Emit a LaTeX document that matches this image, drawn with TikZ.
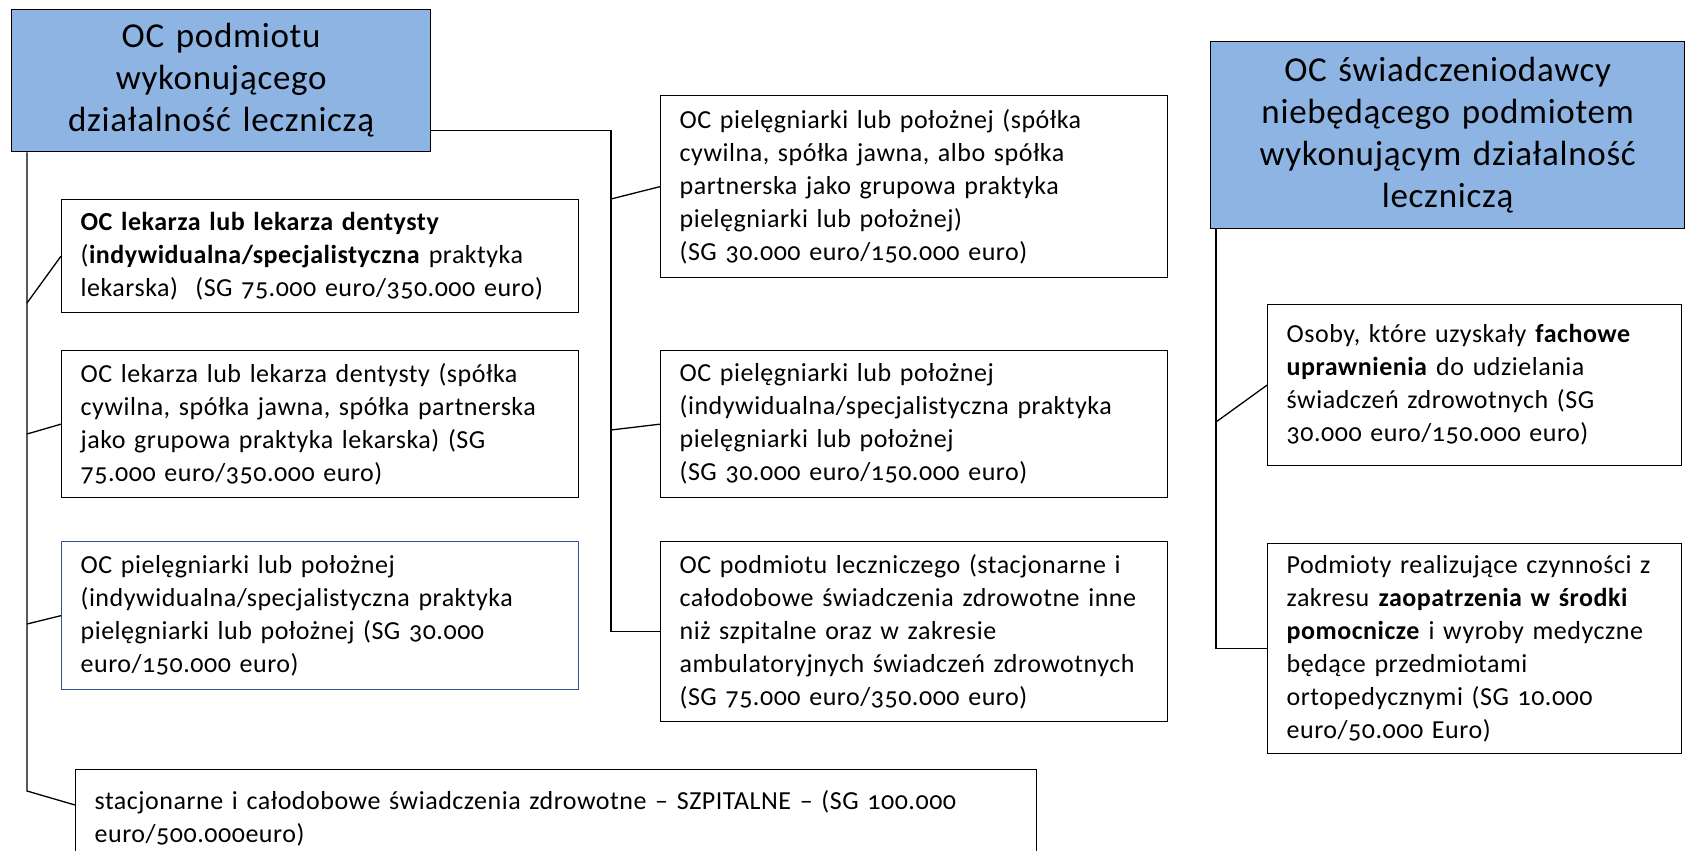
\documentclass[tikz,border=0pt]{standalone}
\usepackage{fontspec}
\setmainfont{Carlito}[Numbers=OldStyle, LetterSpace=2, WordSpace=0.8]
\usetikzlibrary{calc}
\definecolor{headblue}{RGB}{142,180,227}
\definecolor{boxblue}{RGB}{47,85,151}
\tikzset{
  box/.style={draw, line width=1.3pt, anchor=north west, align=left, inner xsep=19pt, inner ysep=0pt,
    font=\fontsize{26}{33}\selectfont},
  head/.style={draw, line width=1.3pt, fill=headblue, anchor=north west, align=center, inner sep=0pt,
    font=\fontsize{35}{42}\selectfont},
  conn/.style={line width=1.3pt}
}
\begin{document}
\begin{tikzpicture}[x=1pt,y=1pt]
\useasboundingbox (0,0) rectangle (1687,-851);
% headers
\node[head, minimum width=419pt, minimum height=142pt, text width=400pt] (h1) at (11,-9)
  {OC podmiotu\\wykonującego\\działalność leczniczą};
\node[head, minimum width=474pt, minimum height=187pt, text width=455pt] (hr) at (1210,-41)
  {OC świadczeniodawcy\\niebędącego podmiotem\\wykonującym działalność\\leczniczą};
% left column
\node[box, text width=479pt, minimum height=113pt] (l1) at (61,-199)
  {\textbf{OC lekarza lub lekarza dentysty}\\(\textbf{indywidualna/specjalistyczna} praktyka\\lekarska)~~(SG 75.000 euro/350.000 euro)};
\node[box, text width=479pt, minimum height=147pt] (l2) at (61,-350)
  {OC lekarza lub lekarza dentysty (spółka\\cywilna, spółka jawna, spółka partnerska\\jako grupowa praktyka lekarska) (SG\\75.000 euro/350.000 euro)};
\node[box, draw=boxblue, text width=479pt, minimum height=148pt] (l3) at (61,-541)
  {OC pielęgniarki lub położnej\\(indywidualna/specjalistyczna praktyka\\pielęgniarki lub położnej (SG 30.000\\euro/150.000 euro)};
\node[box, text width=923pt, minimum height=98pt] (bt) at (75,-769)
  {stacjonarne i całodobowe świadczenia zdrowotne – SZPITALNE – (SG 100.000\\euro/500.000euro)};
% middle column
\node[box, text width=469pt, minimum height=182pt] (m1) at (660,-95)
  {OC pielęgniarki lub położnej (spółka\\cywilna, spółka jawna, albo spółka\\partnerska jako grupowa praktyka\\pielęgniarki lub położnej)\\(SG 30.000 euro/150.000 euro)};
\node[box, text width=469pt, minimum height=147pt] (m2) at (660,-350)
  {OC pielęgniarki lub położnej\\(indywidualna/specjalistyczna praktyka\\pielęgniarki lub położnej\\(SG 30.000 euro/150.000 euro)};
\node[box, text width=469pt, minimum height=180pt] (m3) at (660,-541)
  {OC podmiotu leczniczego (stacjonarne i\\całodobowe świadczenia zdrowotne inne\\niż szpitalne oraz w zakresie\\ambulatoryjnych świadczeń zdrowotnych\\(SG 75.000 euro/350.000 euro)};
% right column
\node[box, text width=376pt, minimum height=161pt] (r1) at (1267,-304)
  {Osoby, które uzyskały \textbf{fachowe}\\\textbf{uprawnienia} do udzielania\\świadczeń zdrowotnych (SG\\30.000 euro/150.000 euro)};
\node[box, text width=376pt, minimum height=210pt] (r2) at (1267,-543)
  {Podmioty realizujące czynności z\\zakresu \textbf{zaopatrzenia w środki}\\\textbf{pomocnicze} i wyroby medyczne\\będące przedmiotami\\ortopedycznymi (SG 10.000\\euro/50.000 Euro)};
% junction coordinates
\coordinate (lvx) at (27,0);
\coordinate (lb1) at (27,-303);
\coordinate (lb2) at (27,-434);
\coordinate (lb3) at (27,-624);
\coordinate (lend) at (27,-791);
\coordinate (mvx) at (611,0);
\coordinate (mb1) at (611,-199);
\coordinate (mb2) at (611,-430);
\coordinate (rvx) at (1216,0);
\coordinate (rb1) at (1216,-422);
% left trunk
\draw[conn] (h1.south -| lvx) -- (lend) -- ($(bt.north west)+(0,-36)$);
\draw[conn] (lb1) -- (l1.west);
\draw[conn] (lb2) -- (l2.west);
\draw[conn] (lb3) -- (l3.west);
% middle trunk
\draw[conn] ($(h1.south east)+(0,22)$) -- ($(h1.south east -| mvx)+(0,22)$) -- (m3.west -| mvx) -- (m3.west);
\draw[conn] (mb1) -- (m1.west);
\draw[conn] (mb2) -- (m2.west);
% right trunk
\draw[conn] (hr.south -| rvx) -- (r2.west -| rvx) -- (r2.west);
\draw[conn] (rb1) -- (r1.west);
\end{tikzpicture}
\end{document}
